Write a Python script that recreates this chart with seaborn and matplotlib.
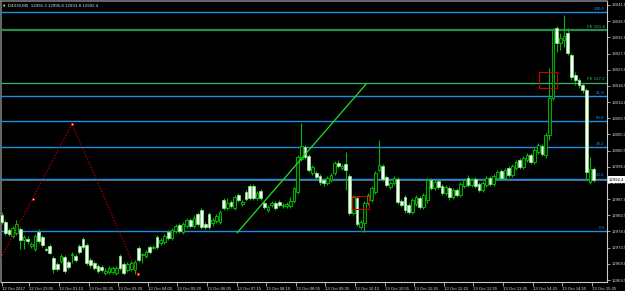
import matplotlib
matplotlib.use("Agg")
import matplotlib.pyplot as plt
import seaborn as sns
import numpy as np
import pandas as pd
from matplotlib.patches import Rectangle
from matplotlib.transforms import blended_transform_factory

# ---------------- data ----------------
opens = [12982.6, 12980.6, 12978.4, 12976.7, 12977.6, 12978.7, 12975.6, 12975.9, 12974.0, 12973.1,
         12977.9, 12976.5, 12973.1, 12974.0, 12970.6, 12969.0, 12969.8, 12970.9, 12969.5, 12971.5,
         12971.2, 12974.0, 12975.9, 12974.2, 12970.1, 12969.2, 12968.4, 12968.1, 12966.5, 12966.7,
         12966.7, 12966.5, 12971.2, 12969.0, 12967.3, 12967.6, 12967.3, 12973.4, 12971.5, 12971.2,
         12973.7, 12973.4, 12976.5, 12974.8, 12975.1, 12977.9, 12976.2, 12978.1, 12979.8, 12977.9,
         12979.5, 12981.2, 12979.5, 12982.9, 12984.0, 12980.1, 12982.9, 12980.4, 12980.9, 12980.6,
         12986.8, 12984.5, 12986.2, 12984.5, 12988.2, 12985.6, 12989.0, 12990.7, 12990.7, 12987.3,
         12989.3, 12985.9, 12984.0, 12985.4, 12985.9, 12986.2, 12985.1, 12985.1, 12985.1, 12986.5,
         12989.0, 12998.2, 13001.5, 12999.0, 12994.3, 12994.3, 12993.4, 12992.3, 12991.5, 12992.3,
         12994.3, 12997.1, 12995.7, 12996.8, 12993.4, 12983.1, 12987.3, 12979.3, 12980.4, 12985.9,
         12986.8, 12989.0, 12995.1, 12996.2, 12993.2, 12990.4, 12991.5, 12992.6, 12986.5, 12987.6,
         12985.4, 12983.4, 12985.6, 12987.3, 12984.8, 12986.8, 12992.3, 12990.1, 12992.0, 12990.7,
         12988.7, 12990.1, 12987.6, 12989.5, 12988.2, 12990.7, 12992.9, 12990.9, 12992.6, 12991.2,
         12989.5, 12990.9, 12992.9, 12991.2, 12992.9, 12994.8, 12992.9, 12995.7, 12993.7, 12995.7,
         12997.9, 12995.9, 12997.9, 12999.3, 12997.3, 13000.1, 13001.8, 12999.3, 13004.8, 13015.1,
         13034.6, 13030.4, 13031.3, 13033.2, 13027.1, 13021.5, 13020.1, 13018.8, 13017.4, 12991.8,
         12995.3]
highs = [12983.4, 12981.2, 12979.0, 12979.5, 12981.2, 12979.2, 12977.0, 12976.7, 12975.1, 12977.3,
         12978.7, 12977.0, 12973.7, 12974.5, 12971.2, 12969.5, 12971.7, 12971.5, 12970.1, 12972.3,
         12971.7, 12974.5, 12976.5, 12974.8, 12970.6, 12969.8, 12969.0, 12968.7, 12967.9, 12968.4,
         12968.4, 12968.4, 12971.7, 12969.5, 12969.5, 12969.8, 12970.1, 12974.0, 12972.0, 12972.9,
         12974.2, 12974.2, 12977.0, 12976.2, 12977.3, 12978.4, 12979.0, 12980.1, 12980.4, 12980.6,
         12981.8, 12981.8, 12982.6, 12983.4, 12984.5, 12980.6, 12983.4, 12981.8, 12982.9, 12984.0,
         12987.3, 12987.3, 12986.8, 12988.2, 12988.7, 12986.8, 12989.5, 12991.2, 12991.2, 12989.3,
         12989.8, 12986.5, 12985.4, 12986.5, 12986.5, 12986.8, 12985.9, 12986.2, 12987.6, 12990.4,
         12999.3, 13008.2, 13002.1, 12999.6, 12996.5, 12994.8, 12994.0, 12992.9, 12993.4, 12994.3,
         12997.6, 12997.9, 12996.8, 13000.1, 12994.0, 12988.2, 12987.9, 12981.2, 12986.5, 12988.7,
         12990.7, 12994.8, 13003.5, 12996.8, 12993.7, 12992.0, 12993.4, 12993.2, 12987.0, 12988.2,
         12985.9, 12987.3, 12988.2, 12987.9, 12988.7, 12992.9, 12992.9, 12992.3, 12992.6, 12991.2,
         12990.9, 12990.7, 12990.1, 12990.1, 12991.8, 12992.9, 12993.7, 12992.9, 12993.2, 12991.8,
         12992.0, 12993.4, 12993.4, 12994.0, 12995.1, 12995.4, 12995.7, 12996.2, 12996.8, 12997.9,
         12998.4, 12999.0, 12999.8, 12999.8, 13001.2, 13002.6, 13002.3, 13005.4, 13023.5, 13034.6,
         13035.2, 13033.2, 13038.2, 13034.6, 13027.7, 13022.4, 13020.7, 13019.3, 13017.9, 12998.7,
         12995.8]
lows = [12980.1, 12977.0, 12976.7, 12976.2, 12977.0, 12973.1, 12973.1, 12974.5, 12973.4, 12972.6,
        12974.8, 12973.7, 12972.6, 12971.7, 12966.5, 12967.0, 12969.2, 12966.5, 12967.6, 12969.2,
        12969.5, 12971.7, 12973.1, 12968.7, 12967.9, 12967.3, 12966.5, 12966.7, 12965.9, 12966.2,
        12966.2, 12965.9, 12967.3, 12965.9, 12966.7, 12967.0, 12966.2, 12969.5, 12969.2, 12970.6,
        12971.7, 12973.1, 12973.1, 12974.2, 12974.5, 12975.6, 12975.6, 12977.6, 12977.6, 12977.3,
        12979.0, 12979.0, 12979.0, 12979.5, 12978.7, 12978.7, 12978.7, 12979.5, 12980.4, 12980.1,
        12984.0, 12984.0, 12984.5, 12984.0, 12986.2, 12985.1, 12986.5, 12986.8, 12986.8, 12986.8,
        12986.8, 12984.3, 12983.4, 12984.8, 12984.0, 12984.8, 12984.5, 12984.5, 12984.5, 12985.9,
        12988.4, 12997.6, 12998.2, 12994.5, 12993.7, 12992.6, 12990.9, 12990.7, 12990.9, 12991.8,
        12993.7, 12995.7, 12995.1, 12989.5, 12982.6, 12982.6, 12979.5, 12978.7, 12977.9, 12985.4,
        12986.2, 12988.4, 12994.5, 12992.0, 12990.4, 12989.8, 12990.9, 12985.6, 12984.8, 12983.1,
        12982.9, 12982.9, 12985.1, 12984.3, 12984.3, 12985.9, 12989.5, 12989.5, 12989.8, 12988.2,
        12988.2, 12986.8, 12987.0, 12987.6, 12987.6, 12990.1, 12990.4, 12990.4, 12990.1, 12989.0,
        12989.0, 12990.4, 12990.7, 12990.7, 12992.3, 12992.3, 12992.3, 12993.2, 12993.2, 12995.1,
        12995.4, 12995.4, 12997.3, 12996.8, 12996.8, 12999.6, 12999.0, 12998.4, 13003.5, 13014.6,
        13027.9, 13028.5, 13029.3, 13027.1, 13020.1, 13018.8, 13017.9, 13016.5, 12992.3, 12991.2,
        12991.8]
closes = [12980.6, 12977.6, 12977.3, 12979.0, 12980.1, 12975.6, 12976.5, 12975.4, 12974.5, 12976.7,
          12975.4, 12974.2, 12972.9, 12972.0, 12967.6, 12967.6, 12971.2, 12967.0, 12968.1, 12971.7,
          12970.1, 12972.3, 12973.7, 12969.2, 12968.7, 12967.9, 12967.0, 12967.3, 12967.0, 12967.9,
          12967.9, 12967.9, 12967.9, 12966.5, 12969.0, 12969.2, 12969.5, 12970.1, 12971.7, 12972.3,
          12972.3, 12973.7, 12973.7, 12975.6, 12976.7, 12976.2, 12978.4, 12979.5, 12978.1, 12980.1,
          12981.2, 12979.5, 12981.8, 12980.1, 12979.3, 12979.3, 12979.3, 12981.2, 12982.3, 12983.4,
          12984.5, 12985.9, 12985.1, 12987.6, 12986.8, 12986.2, 12987.0, 12987.3, 12987.3, 12988.7,
          12987.3, 12984.8, 12984.8, 12985.9, 12984.5, 12985.4, 12985.4, 12985.6, 12986.5, 12990.1,
          12998.7, 13001.8, 12998.7, 12995.1, 12995.9, 12993.2, 12991.8, 12991.5, 12992.9, 12993.7,
          12997.1, 12996.2, 12996.2, 12995.1, 12983.1, 12987.6, 12980.1, 12980.6, 12985.9, 12988.2,
          12990.1, 12994.3, 12996.5, 12992.6, 12990.9, 12991.5, 12992.9, 12986.2, 12985.4, 12984.0,
          12983.4, 12986.8, 12987.6, 12984.8, 12988.2, 12992.3, 12990.1, 12991.8, 12990.4, 12988.7,
          12990.4, 12987.6, 12989.5, 12988.2, 12991.2, 12992.3, 12990.9, 12992.3, 12990.7, 12989.5,
          12991.5, 12992.9, 12991.2, 12993.4, 12994.5, 12992.9, 12995.1, 12993.7, 12996.2, 12997.3,
          12995.9, 12998.4, 12999.3, 12997.3, 13000.7, 13002.1, 12999.6, 13004.8, 13015.1, 13034.0,
          13030.4, 13031.8, 13032.4, 13027.7, 13021.0, 13020.1, 13018.8, 13017.4, 12994.5, 12995.4,
          12992.4]

x_tick_labels = ["12 Oct 2017", "12 Oct 23:05", "13 Oct 01:15", "13 Oct 02:35", "13 Oct 03:20",
                 "13 Oct 04:05", "13 Oct 05:20", "13 Oct 06:05", "13 Oct 07:15", "13 Oct 08:10",
                 "13 Oct 08:55", "13 Oct 09:35", "13 Oct 10:15", "13 Oct 10:55", "13 Oct 11:35",
                 "13 Oct 12:15", "13 Oct 12:55", "13 Oct 13:35", "13 Oct 14:15", "13 Oct 14:55",
                 "13 Oct 15:35"]
x_tick_bars = [0.0, 7.5, 15.5, 23.5, 31.5, 39.5, 47.5, 55.5, 63.5, 71.5, 79.5,
               87.5, 95.5, 103.5, 111.5, 119.5, 127.5, 135.5, 143.5, 151.5, 159.5]
y_ticks = [12964.5, 12969.0, 12973.5, 12978.0, 12982.5, 12987.0, 12991.5, 12996.0, 13000.5,
           13005.0, 13009.5, 13014.0, 13018.5, 13023.0, 13027.5, 13032.0, 13036.5, 13041.0]

fib_labels = ["0.0", "23.6", "38.2", "50.0", "61.8", "100.0"]
fib_prices = [12978.1, 12992.7, 13001.4, 13008.6, 13015.7, 13039.0]
fe_labels = ["FE 127.2", "FE 161.8"]
fe_prices = [13019.3, 13034.0]

zigzag_bars = [-0.5, 19.0, 36.8]
zigzag_prices = [12970.0, 13007.9, 12966.2]
marker_bars = [8.5, 19.0, 36.8]
marker_prices = [12987.0, 13007.9, 12966.2]

trend_bars = [63.6, 98.5]
trend_prices = [12977.6, 13019.0]

box_bars = [(94.8, 99.4), (145.2, 150.1)]
box_prices = [(12984.3, 12987.9), (13017.9, 13022.4)]

title_text = "\u25BC D4X30,M5  12995.3 12995.8 12991.8 12992.4"
bid_price = 12992.4
bid_label = "12992.4"

# ---------------- style ----------------
sns.set_theme(style="dark", rc={
    "axes.facecolor": "black", "figure.facecolor": "black",
    "axes.grid": False, "axes.edgecolor": "#c8c8c8",
})
plt.rcParams["font.family"] = ["Liberation Sans", "DejaVu Sans"]

W, H = 625, 291
fig = plt.figure(figsize=(W / 100, H / 100), dpi=100, facecolor="black")
ax = fig.add_axes([1.5 / W, 9 / H, 605.5 / W, 281 / H])
ax.set_facecolor("black")

df = pd.DataFrame({"bar": np.arange(len(opens)), "open": opens, "high": highs,
                   "low": lows, "close": closes})
bull = df["close"] >= df["open"]

# fib / FE horizontal levels
fib_col = "#1890e8"
ax.axhline(bid_price, color="#5a5a5a", lw=0.8, zorder=1)
for lab, p in zip(fib_labels, fib_prices):
    ax.axhline(p, color=fib_col, lw=1.0, zorder=1.5)
    ax.text(162.9, p + 0.35, lab, color=fib_col, fontsize=3.2, ha="right", va="bottom", zorder=6)
fe_cols = ["#2fb866", "#248a4e"]
fe_lws = [0.9, 1.6]
for lab, p, c, lw in zip(fe_labels, fe_prices, fe_cols, fe_lws):
    ax.axhline(p, color=c, lw=lw, zorder=1)
    ax.text(162.9, p + 0.45, lab, color="#3cc070", fontsize=3.2, ha="right", va="bottom", zorder=6)

# candles
wick_col = "#00b800"
ax.vlines(df["bar"], df["low"], df["high"], color=wick_col, lw=0.8, zorder=3)
body_bottom = np.minimum(df["open"], df["close"])
body_h = np.maximum(np.abs(df["close"] - df["open"]), 0.15)
face = np.where(bull, "#001a00", "#ffffff")
edge = np.where(bull, "#00c800", "#80e080")
ax.bar(df["bar"], body_h, bottom=body_bottom, width=0.74, color=face,
       edgecolor=edge, linewidth=0.6, zorder=4)

# zigzag (dotted red) + markers
zz = pd.DataFrame({"bar": zigzag_bars, "price": zigzag_prices})
sns.lineplot(data=zz, x="bar", y="price", ax=ax, color="#b00000", lw=0.9,
             linestyle=(0, (1, 1.3)), zorder=5)
ax.plot(marker_bars, marker_prices, ls="none", marker="s", ms=2.0, mfc="white",
        mec="#d00000", mew=0.6, zorder=6)

# green trend line
tr = pd.DataFrame({"bar": trend_bars, "price": trend_prices})
sns.lineplot(data=tr, x="bar", y="price", ax=ax, color="#22e022", lw=0.9, zorder=5)

# red rectangles
for (b0, b1), (p0, p1) in zip(box_bars, box_prices):
    ax.add_patch(Rectangle((b0, p0), b1 - b0, p1 - p0, fill=False, ec="#c80000", lw=0.8, zorder=6))

# axes limits
ax.set_xlim(-0.05, 163.6)
ax.set_ylim(12963.95, 13042.11)
ax.set_xlabel("")
ax.set_ylabel("")

# ticks
ax.yaxis.tick_right()
ax.set_yticks(y_ticks)
ax.set_yticklabels([f"{v:.1f}" for v in y_ticks])
ax.tick_params(axis="y", which="both", right=True, left=False, labelright=True, labelleft=False,
               length=2, width=0.6, color="#c0c0c0", labelcolor="#d8d8d8", labelsize=3.1, pad=1.0)
ax.set_xticks(x_tick_bars)
ax.set_xticklabels(x_tick_labels)
ax.tick_params(axis="x", bottom=True, length=3, width=0.6, color="#c0c0c0",
               labelcolor="#d8d8d8", labelsize=3.1, pad=0.8)
for t in ax.get_xticklabels():
    t.set_horizontalalignment("left")

for s in ["right", "bottom"]:
    ax.spines[s].set_color("#c8c8c8")
    ax.spines[s].set_linewidth(0.8)
for s in ["left", "top"]:
    ax.spines[s].set_color("#7a7a7a")
    ax.spines[s].set_linewidth(1.2)

# current price box
trans = blended_transform_factory(ax.transAxes, ax.transData)
ax.text(1.003, bid_price, bid_label, transform=trans, ha="left", va="center", fontsize=3.1,
        color="black", zorder=10, clip_on=False,
        bbox=dict(boxstyle="square,pad=0.3", fc="white", ec="none"))

# title
fig.text(2.5 / W, 1 - 5.5 / H, title_text, color="#e0e0e0", fontsize=3.2, ha="left", va="center")

fig.savefig("out.png", dpi=100, facecolor="black")
